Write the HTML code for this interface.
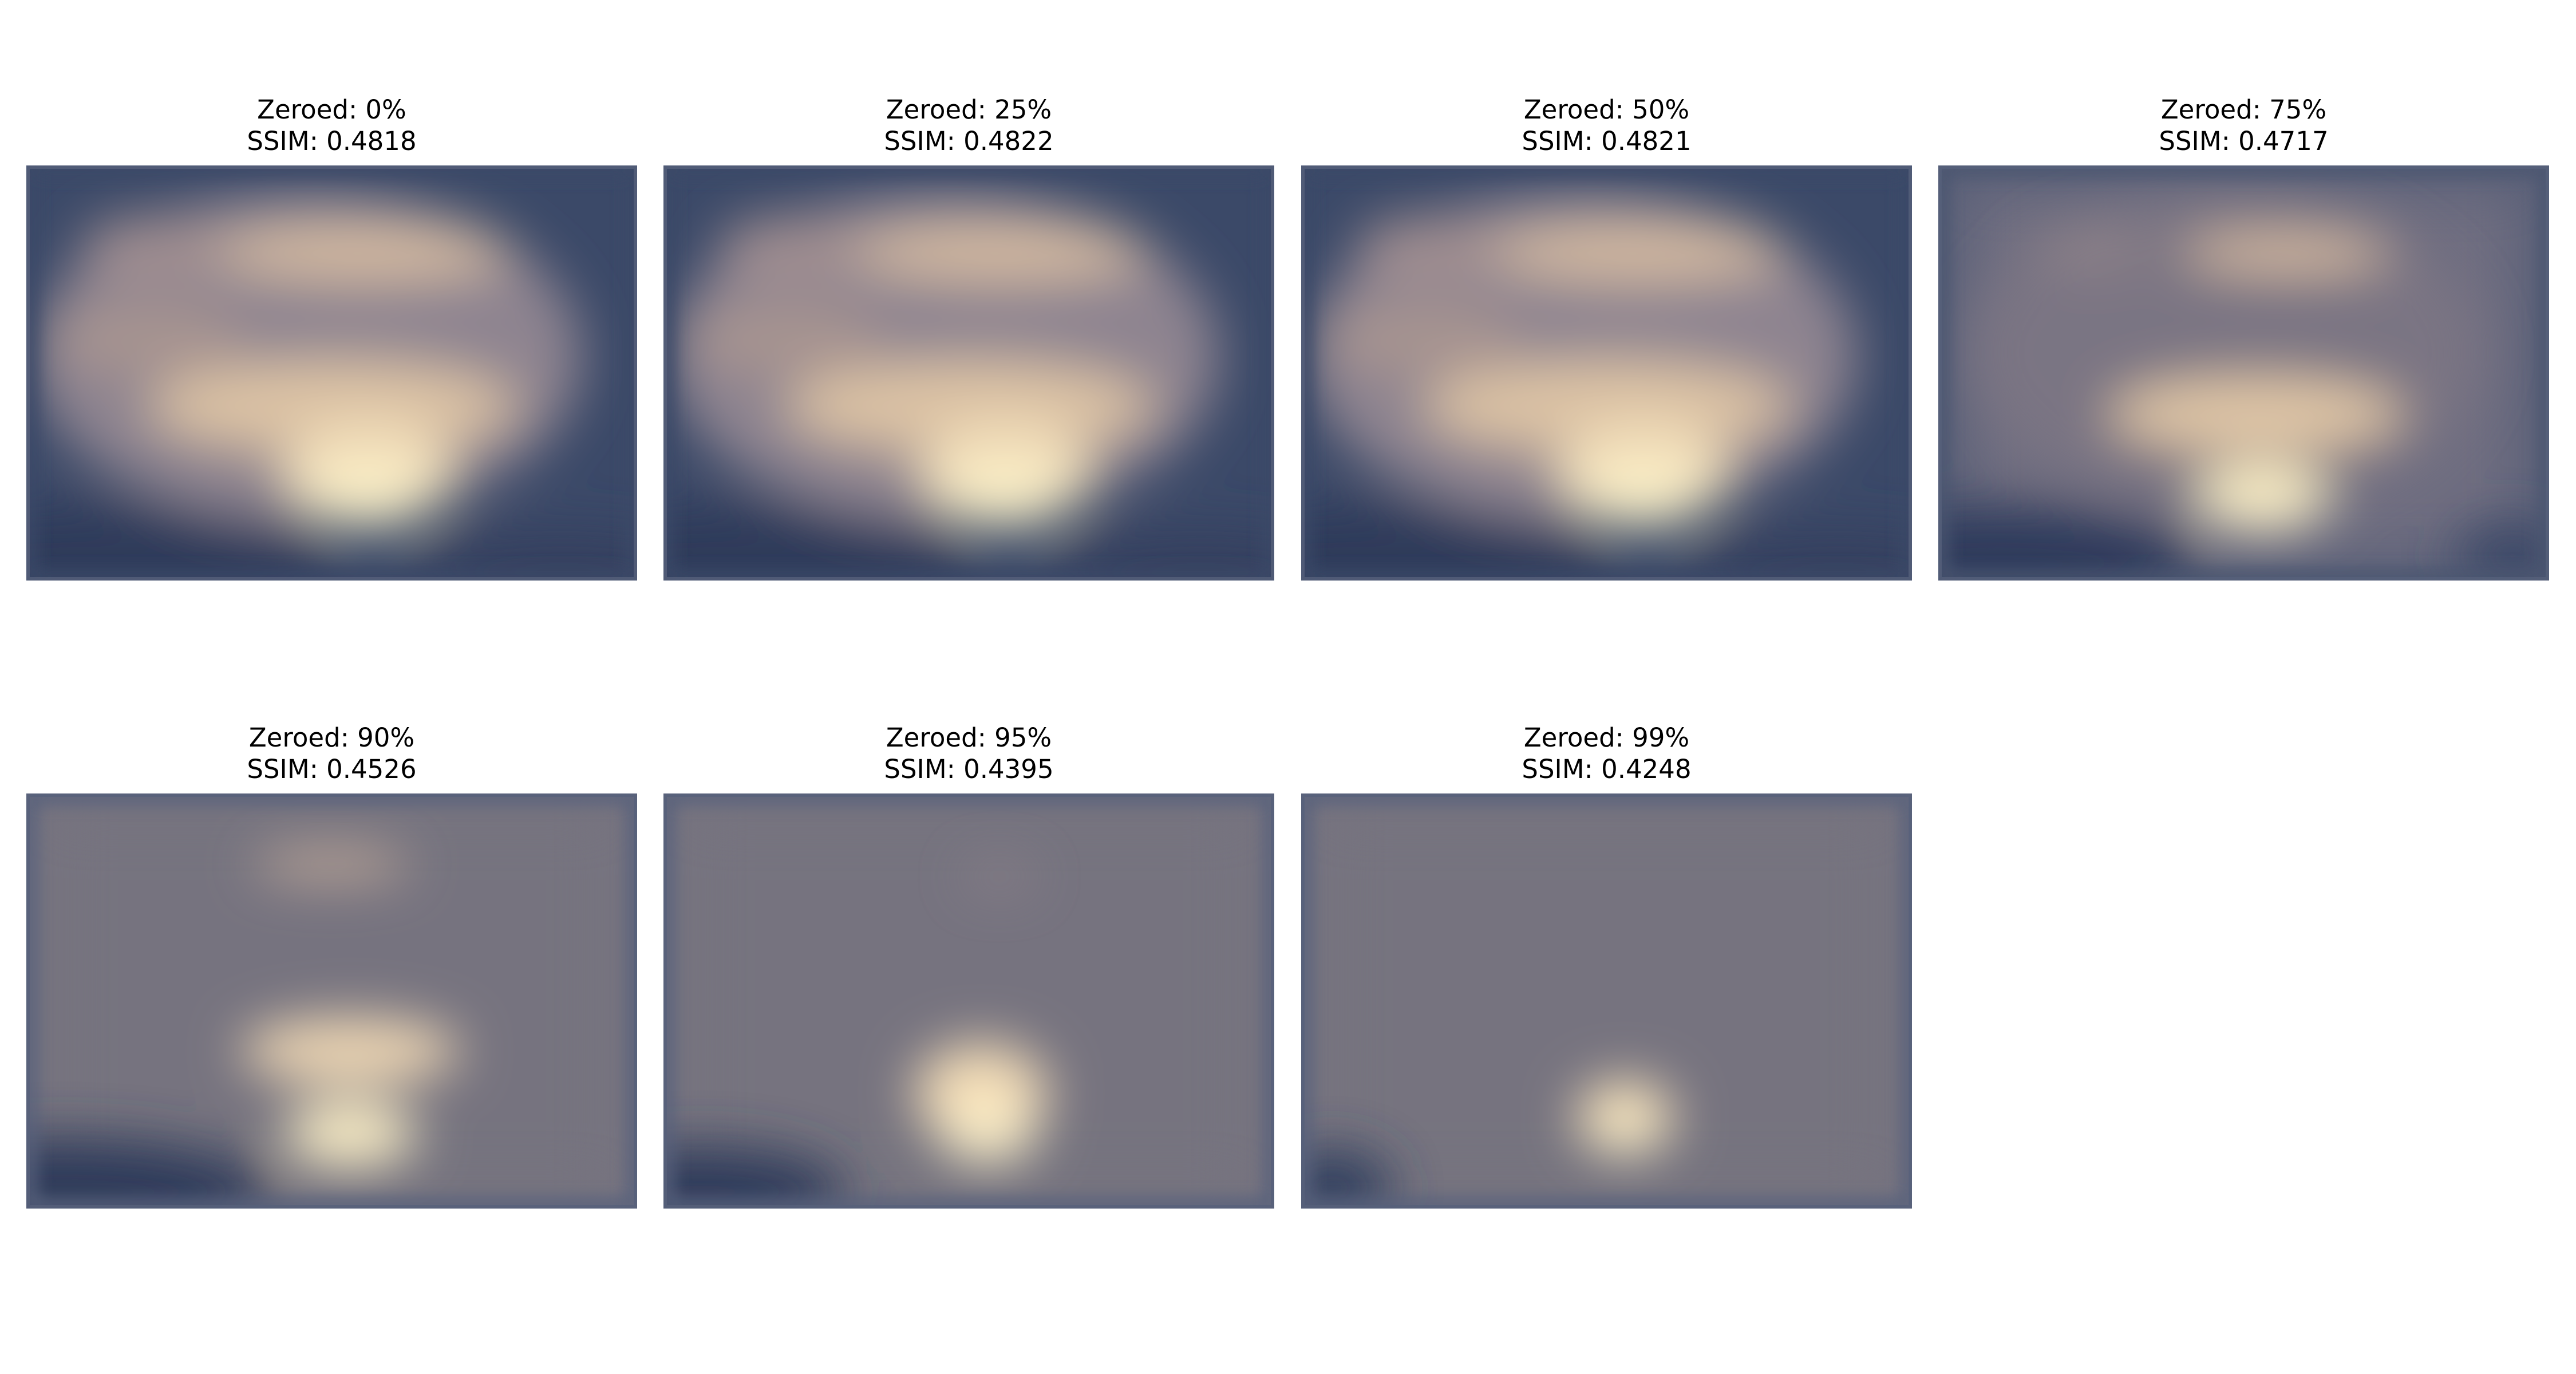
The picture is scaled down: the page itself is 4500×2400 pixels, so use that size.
<!DOCTYPE html>
<html><head><meta charset="utf-8">
<style>
html,body{margin:0;padding:0;background:#fff;}
#wrap{position:relative;width:4500px;height:2400px;overflow:hidden;font-family:"DejaVu Sans","Liberation Sans",sans-serif;}
.ttl{position:absolute;width:1067px;text-align:center;font-size:45px;line-height:55px;color:#000;}
</style></head>
<body>
<div id="wrap">
<svg id="svg" width="4500" height="2400" style="position:absolute;left:0;top:0"></svg>
</div>
<script>
const zeroedPct = [0, 25, 50, 75, 90, 95, 99];
const ssimValues = ["0.4818", "0.4822", "0.4821", "0.4717", "0.4526", "0.4395", "0.4248"];
const full = [[0.46,0.46,0.45,0.4,'#8e8490'],[0.22,0.2,0.13,0.08,'#a08e90'],[0.55,0.21,0.24,0.07,'#d3b9a0'],[0.2,0.42,0.16,0.08,'#a89490'],[0.5,0.58,0.3,0.11,'#dcc2a4'],[0.56,0.74,0.14,0.12,'#f3e0bb'],[0.56,0.8,0.1,0.07,'#fcf1c8'],[0.1,0.98,0.4,0.16,'#2d3a5a'],[0.88,0.98,0.25,0.1,'#34415f']];
const panelBlobs = [
 full, full, full,
 [[0.47,0.45,0.42,0.38,'#7a7483'],[0.25,0.2,0.1,0.05,'#8e8288'],[0.57,0.21,0.17,0.05,'#d4b9a0'],[0.52,0.6,0.24,0.09,'#e0c6a6'],[0.53,0.8,0.11,0.08,'#fbefc6'],[0.1,0.96,0.32,0.14,'#2e3b5c'],[0.94,0.94,0.1,0.08,'#3a4666']],
 [[0.5,0.17,0.13,0.04,'#c0a898'],[0.53,0.62,0.18,0.08,'#f0d8b4'],[0.53,0.82,0.11,0.08,'#fcefc6'],[0.06,0.96,0.34,0.13,'#2d3a5a']],
 [[0.55,0.2,0.06,0.03,'#8a8088'],[0.52,0.72,0.11,0.12,'#f3dcb6'],[0.53,0.82,0.08,0.07,'#fcefc8'],[0.06,0.96,0.24,0.11,'#2d3a5a']],
 [[0.53,0.78,0.08,0.09,'#f6e0b8'],[0.53,0.82,0.05,0.05,'#fcefc8'],[0.05,0.95,0.1,0.09,'#2f3c5d']]
];
const baseColors = ['#3b4968','#3b4968','#3b4968','#5a6078','#76737f','#76737f','#76737f'];
const frameColors = ['#3b4968','#3b4968','#3b4968','#4a5470','#56607c','#56607c','#56607c'];
const colX = [46,1159,2273,3386], rowY = [289,1386], W = 1067, H = 725;
const NS = 'http://www.w3.org/2000/svg';
const svg = document.getElementById('svg');
const defs = document.createElementNS(NS,'defs');
defs.innerHTML = '<filter id="bl" x="-50%" y="-50%" width="200%" height="200%"><feGaussianBlur stdDeviation="45"/></filter><filter id="bl2" x="-50%" y="-50%" width="200%" height="200%"><feGaussianBlur stdDeviation="14"/></filter>';
svg.appendChild(defs);
zeroedPct.forEach((z,i)=>{
  const x = colX[i%4], y = rowY[Math.floor(i/4)];
  const cp = document.createElementNS(NS,'clipPath'); cp.setAttribute('id','c'+i);
  cp.innerHTML = `<rect x="${x}" y="${y}" width="${W}" height="${H}"/>`;
  defs.appendChild(cp);
  const g = document.createElementNS(NS,'g');
  
  
  g.setAttribute('clip-path',`url(#c${i})`);
  let html = `<rect x="${x}" y="${y}" width="${W}" height="${H}" fill="${baseColors[i]}"/>`;
  if(i>=3) html += `<rect x="${x+W*0.05}" y="${y+H*0.06}" width="${W*0.9}" height="${H*0.88}" fill="${i==3?'#6e6d80':'#76737f'}" filter="url(#bl)"/>`;
  let inner = '';
  panelBlobs[i].forEach(b=>{ inner += `<ellipse cx="${x+b[0]*W}" cy="${y+b[1]*H}" rx="${b[2]*W}" ry="${b[3]*H}" fill="${b[4]}"/>`; });
  html += `<g filter="url(#bl)">${inner}</g>`;
  html += `<rect x="${x+6}" y="${y+6}" width="${W-12}" height="${H-12}" fill="none" stroke="${frameColors[i]}" stroke-width="24" filter="url(#bl2)"/>`;
  html += `<rect x="${x+3}" y="${y+3}" width="${W-6}" height="${H-6}" fill="none" stroke="#56607a" stroke-width="6" opacity="0.8"/>`;
  g.innerHTML = html;
  svg.appendChild(g);
  const t = document.createElement('div');
  t.className='ttl';
  
  
  t.style.left = x+'px'; t.style.top = (y-125)+'px';
  t.innerHTML = `Zeroed: ${z}%<br>SSIM: ${ssimValues[i]}`;
  document.getElementById('wrap').appendChild(t);
});
</script>
</body></html>
